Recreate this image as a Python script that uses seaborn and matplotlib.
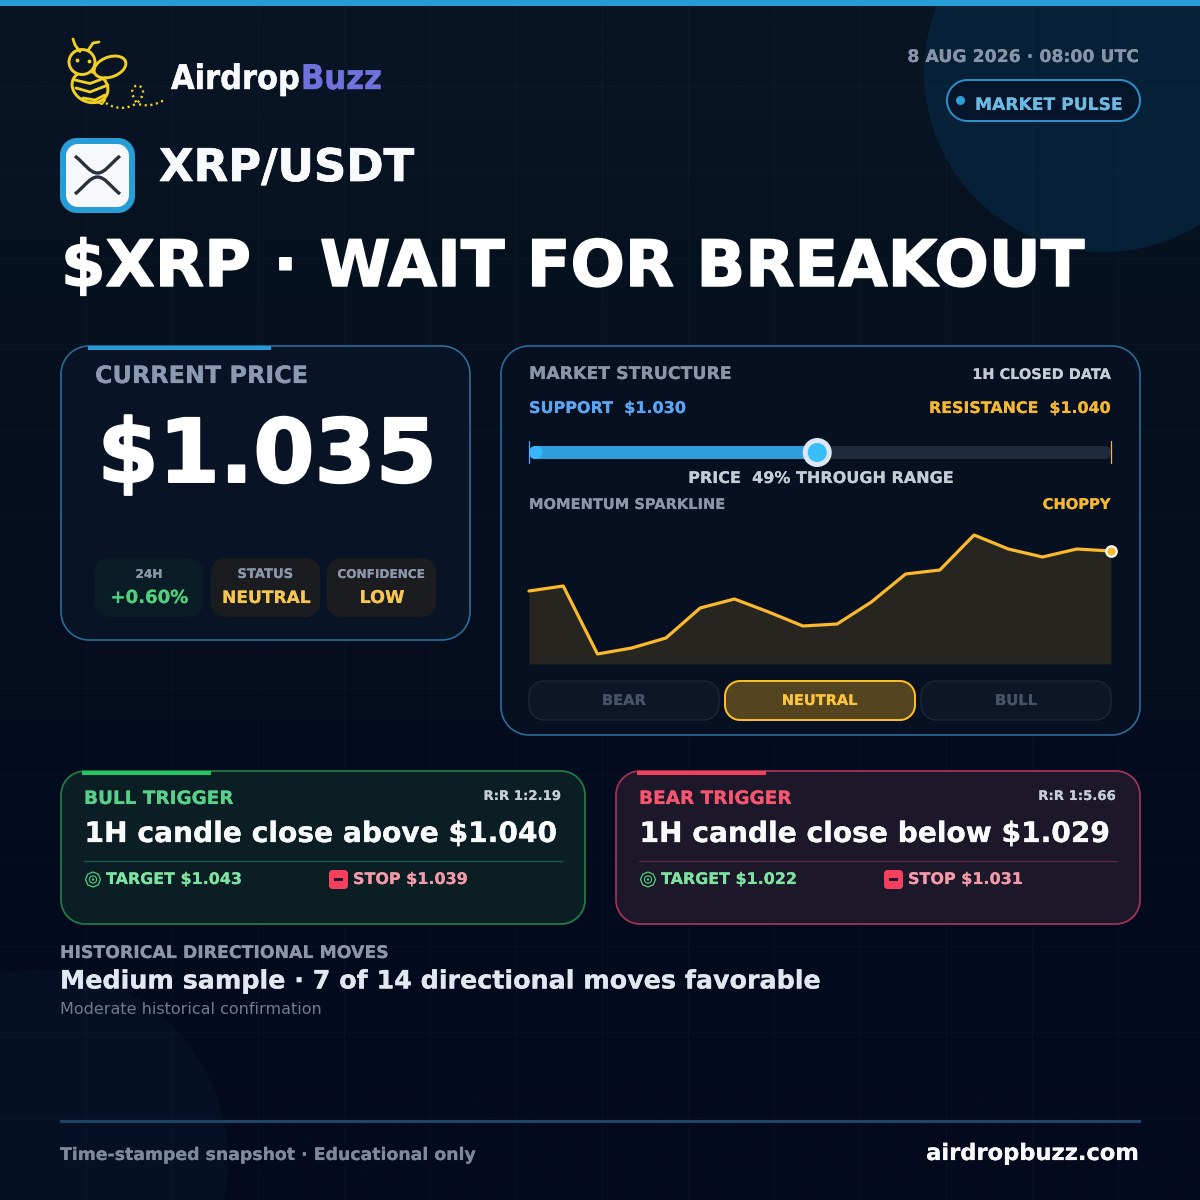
import numpy as np
import pandas as pd
import seaborn as sns
import matplotlib
matplotlib.use('Agg')
import matplotlib.pyplot as plt
import matplotlib.patheffects as pe
from matplotlib import font_manager as fm
from matplotlib.patches import Circle, Ellipse, Rectangle, PathPatch, RegularPolygon
from matplotlib.path import Path

# sparkline values
spark_step = list(range(18))
spark_value = [73, 78, 10, 16, 26, 56, 65, 52, 38, 40, 62, 90, 94, 129, 115, 107, 115, 113]

support = 1.030
resistance = 1.040
range_pct = 0.49

chip_labels = ['24H', 'STATUS', 'CONFIDENCE']
chip_values = ['+0.60%', 'NEUTRAL', 'LOW']
bias_labels = ['BEAR', 'NEUTRAL', 'BULL']

trigger_names = ['BULL TRIGGER', 'BEAR TRIGGER']
trigger_rr = ['R:R 1:2.19', 'R:R 1:5.66']
trigger_text = ['1H candle close above $1.040', '1H candle close below $1.029']
trigger_target = ['TARGET $1.043', 'TARGET $1.022']
trigger_stop = ['STOP $1.039', 'STOP $1.031']

sns.set_theme(style='dark')
plt.rcParams['font.family'] = ['DejaVu Sans']

ttf = matplotlib.get_data_path() + '/fonts/ttf/'
BOLD = ttf + 'DejaVuSans-Bold.ttf'
REG = ttf + 'DejaVuSans.ttf'
COND = fm.findfont(fm.FontProperties(family='DejaVu Sans', weight='bold', stretch='condensed'))

fig = plt.figure(figsize=(12, 12), dpi=100, facecolor='#050d20')
ax = fig.add_axes([0, 0, 1, 1])
ax.set_xlim(0, 1200)
ax.set_ylim(1200, 0)
ax.axis('off')


def box(x0, y0, x1, y1, r, fc, ec='none', lw=0, z=3):
    k = r * 0.4477  # bezier handle for a round corner
    verts = [(x0 + r, y0), (x1 - r, y0),
             (x1 - k, y0), (x1, y0 + k), (x1, y0 + r), (x1, y1 - r),
             (x1, y1 - k), (x1 - k, y1), (x1 - r, y1), (x0 + r, y1),
             (x0 + k, y1), (x0, y1 - k), (x0, y1 - r), (x0, y0 + r),
             (x0, y0 + k), (x0 + k, y0), (x0 + r, y0), (x0 + r, y0)]
    codes = [Path.MOVETO, Path.LINETO] + [Path.CURVE4] * 3 + [Path.LINETO] + [Path.CURVE4] * 3 + \
            [Path.LINETO] + [Path.CURVE4] * 3 + [Path.LINETO] + [Path.CURVE4] * 3 + [Path.CLOSEPOLY]
    ax.add_patch(PathPatch(Path(verts, codes), fc=fc, ec=ec, lw=lw * 0.72, zorder=z))


def rect(x0, y0, x1, y1, c, z=4):
    ax.add_patch(Rectangle((x0, y0), x1 - x0, y1 - y0, fc=c, ec='none', zorder=z))


def txt(x, y, s, size, c, font=BOLD, ha='left', w=None):
    # size is in pixels, y is the baseline. w = fit the text to that pixel width
    t = ax.text(x, y, s, fontproperties=fm.FontProperties(fname=font, size=size * 0.72),
                color=c, ha=ha, va='baseline', zorder=8)
    if w:
        now = t.get_window_extent(fig.canvas.get_renderer()).width
        t.set_fontsize(t.get_fontsize() * w / now)
    if font != REG:
        # big bold text in the reference is a little heavier than the plain font
        fs = t.get_fontsize()
        t.set_path_effects([pe.withStroke(linewidth=min(0.0005 * fs ** 2, 1.4), foreground=c)])
    return t


# background
grad = np.array([[8, 20, 35], [6, 16, 31], [5, 13, 30], [4, 11, 30], [4, 10, 29]]) / 255
ax.imshow(grad[:, None, :], extent=[0, 1200, 1200, 0], aspect='auto', zorder=0,
          interpolation='bilinear')
ax.set_xlim(0, 1200)
ax.set_ylim(1200, 0)
ax.add_patch(Circle((1104, 72), 180, fc='#062038', ec='none', zorder=1))
ax.add_patch(Circle((38, 1160), 190, fc='#061024', ec='none', zorder=1))
for g in range(86, 1200, 86):
    ax.axvline(g, color='#8ab4dc', alpha=0.03, lw=0.8, zorder=2)
    ax.axhline(g, color='#8ab4dc', alpha=0.03, lw=0.8, zorder=2)
rect(0, 0, 1200, 6, '#279dd8')

# bee logo
yel = '#f2d022'
ax.add_patch(Ellipse((90, 87), 37, 30, angle=25, fc='none', ec=yel, lw=2.1, zorder=5))
ax.add_patch(Ellipse((82, 62), 26, 25, angle=0, fc='#081423', ec=yel, lw=2.1, zorder=6))
ax.add_patch(Ellipse((110, 67), 33, 20, angle=-20, fc='#081423', ec=yel, lw=2.1, zorder=5))
ax.plot([77, 89], [60, 60.5], ls='none', marker='o', ms=1.8, color=yel, zorder=7)
for xs, ys in [([80, 75, 73], [51.5, 45, 39]), ([88, 93, 99], [50.5, 43, 42])]:
    ax.plot(xs, ys, color=yel, lw=2, zorder=7)
for xs, ys in [([75, 90, 106], [80, 83.5, 77.5]), ([76, 90, 108], [88, 92, 85]), ([83, 95, 105], [98, 100, 95])]:
    ax.plot(xs, ys, color=yel, lw=2, zorder=7)
ax.plot([97, 102, 105], [102, 104, 100], color=yel, lw=1.5, zorder=7)
trail = Path([(106, 103), (116, 110), (128, 109), (137, 103), (143, 98), (146, 88), (139, 86),
              (132, 84), (129, 93), (137, 103), (143, 107), (155, 106), (166, 99)],
             [Path.MOVETO] + [Path.CURVE4] * 12)
ax.add_patch(PathPatch(trail, fc='none', ec=yel, lw=1.7, ls=(0, (0.9, 1.5)), zorder=6))

txt(171, 89, 'Airdrop', 33, '#f8fafc', font=COND, w=129)
txt(301, 89, 'Buzz', 33, '#6f72dc', font=COND, w=81)

# header right
txt(1139, 62, '8 AUG 2026 · 08:00 UTC', 17, '#8794a8', ha='right', w=232)
box(947, 80, 1140, 121, 20.5, '#06152a', '#2a8fc9', 2)
ax.add_patch(Circle((960.5, 100.5), 4.5, fc='#2a9fd9', ec='none', zorder=8))
txt(975, 110, 'MARKET PULSE', 17, '#6cb9e2', w=147)

# pair row
box(60, 138, 135, 213, 17, '#279dd8')
box(66, 144, 129, 207, 12, '#f6f8fb', z=4)
for p in ([(75, 156), (85, 164), (90, 173), (97.5, 173), (105, 173), (110, 164), (120, 156)],
          [(75, 194), (85, 186), (90, 177), (97.5, 177), (105, 177), (110, 186), (120, 194)]):
    ax.add_patch(PathPatch(Path(p, [Path.MOVETO] + [Path.CURVE4] * 6), fc='none', ec='#2b3038',
                           lw=2.4, zorder=6))
txt(159, 181, 'XRP/USDT', 44, '#f8fafc', w=255)
txt(61, 286, '$XRP · WAIT FOR BREAKOUT', 66, '#ffffff', w=1023)

# price card
box(61, 346, 470, 640, 28, '#081326', '#2b6f9c', 1.6)
rect(88, 345.5, 271, 350, '#279dd8')
txt(95, 383, 'CURRENT PRICE', 24, '#8b9ab0', w=214)
txt(97.5, 482, '$1.035', 90, '#ffffff', w=339)
chip_x = [(95, 203), (211, 320), (327, 436)]
chip_fc = ['#0a1d26', '#1a1c20', '#1a1c20']
chip_c = ['#4fce7e', '#f6c653', '#f6c653']
chip_w = [78, 89, 45]
chip_lw = [27, 56, 88]
for i in range(3):
    x0, x1 = chip_x[i]
    box(x0, 558, x1, 617, 14, chip_fc[i])
    cx = (x0 + x1) / 2
    txt(cx, 578, chip_labels[i], 13, '#8b97a8', ha='center', w=chip_lw[i])
    txt(cx + 0.5, 603, chip_values[i], 20, chip_c[i], ha='center', w=chip_w[i])

# market structure card
box(501, 346, 1140, 735, 28, '#061020', '#2b6f9c', 1.6)
txt(529, 379, 'MARKET STRUCTURE', 17, '#8b97a8', w=202)
txt(1111, 379, '1H CLOSED DATA', 16, '#c5ccd6', ha='right', w=139)
txt(529, 413, f'SUPPORT  ${support:.3f}', 16, '#5ba5f5', w=157)
txt(1111, 413, f'RESISTANCE  ${resistance:.3f}', 16, '#f5b82e', ha='right', w=182)

# range slider
track_start, track_end = 535, 1111
knob = track_start + range_pct * (track_end - track_start)
box(529, 446, 1111, 459, 6, '#1f2a3d', z=4)
box(529, 446, knob, 459, 6, '#2f9fdc', z=5)
ax.plot([529, 529], [441, 463], color='#5ba5f5', lw=0.9, zorder=6)
ax.plot([1111, 1111], [441, 463], color='#f5b82e', lw=0.9, zorder=6)
ax.add_patch(Circle((536, 452.5), 6.5, fc='#38b6ff', ec='none', zorder=6))
ax.add_patch(Circle((knob, 452.5), 14.5, fc='#dce8f5', ec='none', zorder=6))
ax.add_patch(Circle((knob, 452.5), 9.5, fc='#38bdf8', ec='none', zorder=7))
txt(821, 483, f'PRICE  {range_pct:.0%} THROUGH RANGE', 16, '#c5ccd6', ha='center', w=266)

txt(529, 509, 'MOMENTUM SPARKLINE', 15, '#8b97a8', w=197)
txt(1111, 509, 'CHOPPY', 15, '#f5b82e', ha='right', w=68)

# sparkline
spark = pd.DataFrame({'step': spark_step, 'value': spark_value})
sax = fig.add_axes([529 / 1200, 1 - 664 / 1200, 582 / 1200, 139 / 1200], zorder=5)
sax.patch.set_alpha(0)
sax.fill_between(spark['step'], spark['value'], 0, color='#26251f', lw=0)
sns.lineplot(data=spark, x='step', y='value', ax=sax, color='#fbb92c', lw=2.3,
             clip_on=False, legend=False)
sax.plot(spark['step'].iloc[-1], spark['value'].iloc[-1], 'o', ms=7.5, mfc='#fbb92c', mec='#ffffff',
         mew=1.6, clip_on=False, zorder=6)
sax.set_xlim(0, 17)
sax.set_ylim(0, 139)
sax.axis('off')

# bias buttons
btn_x = [(529, 719), (725, 915), (921, 1111)]
for i in range(3):
    x0, x1 = btn_x[i]
    on = bias_labels[i] == 'NEUTRAL'
    box(x0, 681, x1, 720, 15, '#544520' if on else '#0c1627', '#fbbf24' if on else '#1d2a3c', 2 if on else 1.2)
    txt((x0 + x1) / 2, 705, bias_labels[i], 15, '#fbc53d' if on else '#475467', ha='center',
        w=[44, 76, 42][i])

# trigger cards
card_x = [61, 616]
card_fc = ['#0b1e24', '#1d172a']
card_ec = ['#1f7a45', '#a03355']
accent = ['#22c55e', '#f43f5e']
name_c = ['#58d08a', '#f4556f']
div_c = ['#1e5a4a', '#5a2a44']
name_w = [150, 153]
for i in range(2):
    x = card_x[i]
    box(x, 771, x + 524, 924, 24, card_fc[i], card_ec[i], 1.8)
    rect(x + 21, 770.5, x + 150, 775, accent[i])
    txt(x + 23, 804, trigger_names[i], 20, name_c[i], w=name_w[i])
    txt(x + 500, 800, trigger_rr[i], 13, '#c5ccd6', ha='right', w=78)
    txt(x + 23.5, 842, trigger_text[i], 29, '#f8fafc', w=472 if i == 0 else 470)
    ax.plot([x + 23, x + 501], [860.5, 860.5], color=div_c[i], lw=1, zorder=6)
    # target icon
    ax.add_patch(RegularPolygon((x + 32, 879.5), 8, radius=7.5, fc='none', ec='#4fce7e', lw=0.9, zorder=6))
    ax.add_patch(Circle((x + 32, 879.5), 3.6, fc='none', ec='#4fce7e', lw=0.8, zorder=6))
    ax.add_patch(Circle((x + 32, 879.5), 1.2, fc='#4fce7e', ec='none', zorder=6))
    txt(x + 45, 884, trigger_target[i], 17, '#7ee2a2', w=136)
    # stop icon
    box(x + 268, 870, x + 287, 889, 3.5, '#f43f5e', z=6)
    rect(x + 273, 878.2, x + 282, 881, '#1d172a', z=7)
    txt(x + 292, 884, trigger_stop[i], 17, '#f29aa8', w=115)

# history block
txt(60, 958, 'HISTORICAL DIRECTIONAL MOVES', 17, '#8b97a8', w=328)
txt(60, 988.5, 'Medium sample · 7 of 14 directional moves favorable', 26, '#e2e8f0', w=758)
txt(60, 1014, 'Moderate historical confirmation', 16, '#6f7c8f', font=REG, w=262)

# footer
rect(60, 1120, 1141, 1123, '#1c4566')
txt(60, 1160, 'Time-stamped snapshot · Educational only', 18, '#7e8a9c', w=414)
txt(1139, 1160, 'airdropbuzz.com', 24, '#f8fafc', ha='right', w=213)

fig.savefig('out.png', dpi=100, facecolor=fig.get_facecolor())
